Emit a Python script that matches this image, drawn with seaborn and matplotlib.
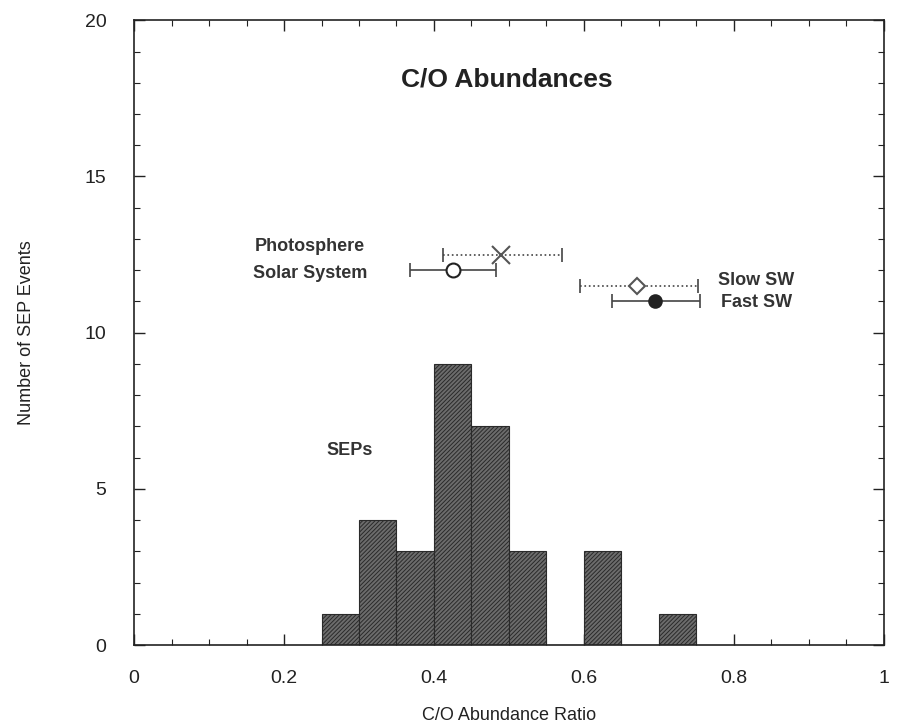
import matplotlib
matplotlib.use("Agg")
import matplotlib.pyplot as plt
import seaborn as sns
import numpy as np
import pandas as pd
from matplotlib.ticker import MultipleLocator

# Histogram data (SEP events)
bin_edges = [0.25, 0.30, 0.35, 0.40, 0.45, 0.50, 0.55, 0.60, 0.65, 0.70, 0.75]
counts = [1, 4, 3, 9, 7, 3, 0, 3, 0, 1]

# Reference abundances
ref_names = ["Solar System", "Photosphere", "Slow SW", "Fast SW"]
ref_x = [0.425, 0.489, 0.671, 0.695]
ref_y = [12.0, 12.5, 11.5, 11.0]
ref_lo = [0.368, 0.412, 0.595, 0.637]
ref_hi = [0.483, 0.571, 0.752, 0.755]

sns.set_style("ticks")
plt.rcParams['font.family'] = ['Liberation Sans', 'DejaVu Sans']
plt.rcParams['hatch.color'] = '#262626'
plt.rcParams['hatch.linewidth'] = 0.7

fig = plt.figure(figsize=(9, 7.24), dpi=100)
ax = fig.add_axes([0.149, 0.109, 0.833, 0.863])

centers = [(bin_edges[i] + bin_edges[i + 1]) / 2 for i in range(len(counts))]
df = pd.DataFrame({"ratio": centers, "n": counts})
sns.histplot(data=df, x="ratio", weights="n", bins=bin_edges, ax=ax,
             color="#6c6c6c", edgecolor="#2a2a2a", linewidth=0.8,
             hatch="////////", alpha=1.0)

styles = [
    dict(marker="o", mfc="white", mec="#222222", ms=10, ls="-"),
    dict(marker="x", mfc="none", mec="#555555", ms=13, ls=":"),
    dict(marker="D", mfc="white", mec="#555555", ms=8, ls=":"),
    dict(marker="o", mfc="#222222", mec="#222222", ms=9, ls="-"),
]
for i in range(len(ref_names)):
    st = styles[i]
    eb = ax.errorbar(ref_x[i], ref_y[i],
                     xerr=[[ref_x[i] - ref_lo[i]], [ref_hi[i] - ref_x[i]]],
                     fmt="none", ecolor="#444444", elinewidth=1.2,
                     capsize=5, capthick=1.2, zorder=3)
    eb[2][0].set_linestyle(st["ls"])
    ax.plot(ref_x[i], ref_y[i], marker=st["marker"], mfc=st["mfc"],
            mec=st["mec"], ms=st["ms"], mew=1.5, ls="none", zorder=4)

ax.text(0.497, 18.1, "C/O Abundances", ha="center", va="center",
        fontsize=19, fontweight="bold", color="#222222")
ax.text(0.235, 12.75, "Photosphere", ha="center", va="center", fontsize=13,
        fontweight="bold", color="#333333")
ax.text(0.235, 11.9, "Solar System", ha="center", va="center", fontsize=13,
        fontweight="bold", color="#333333")
ax.text(0.83, 11.68, "Slow SW", ha="center", va="center", fontsize=13,
        fontweight="bold", color="#333333")
ax.text(0.83, 10.98, "Fast SW", ha="center", va="center", fontsize=13,
        fontweight="bold", color="#333333")
ax.text(0.288, 6.24, "SEPs", ha="center", va="center", fontsize=13,
        fontweight="bold", color="#333333")

ax.set_xlim(0, 1)
ax.set_ylim(0, 20)
ax.xaxis.set_major_locator(MultipleLocator(0.2))
ax.xaxis.set_minor_locator(MultipleLocator(0.05))
ax.yaxis.set_major_locator(MultipleLocator(5))
ax.yaxis.set_minor_locator(MultipleLocator(1))
ax.set_xticks([0, 0.2, 0.4, 0.6, 0.8, 1.0])
ax.set_xticklabels(["0", "0.2", "0.4", "0.6", "0.8", "1"])
ax.tick_params(which="both", direction="in", top=True, right=True,
               labelsize=14, colors="#222222")
ax.tick_params(axis="x", pad=18)
ax.tick_params(axis="y", pad=20)
ax.tick_params(which="major", length=8, width=1)
ax.tick_params(which="minor", length=4, width=0.8)
for s in ax.spines.values():
    s.set_visible(True)
    s.set_linewidth(1.2)
    s.set_color("#222222")

ax.set_xlabel("C/O Abundance Ratio", fontsize=13, labelpad=14, color="#222222")
ax.set_ylabel("Number of SEP Events", fontsize=13, labelpad=36, color="#222222")

fig.savefig("out.png", dpi=100)
